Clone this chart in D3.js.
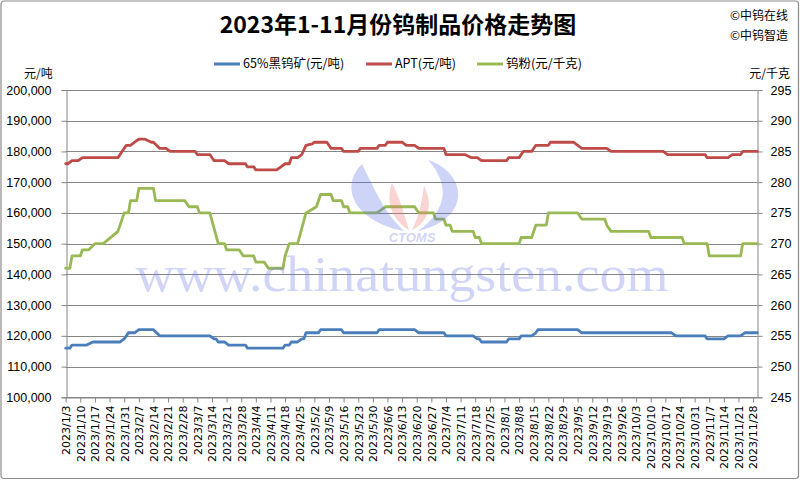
<!DOCTYPE html>
<html><head><meta charset="utf-8">
<script src="https://cdn.jsdelivr.net/npm/d3@7"></script>
<style>body{margin:0;background:#fff}svg{display:block}</style>
</head><body>
<svg id="c" width="800" height="480"></svg>
<script>
const chartTitle = "2023年1-11月份钨制品价格走势图";
const copyrightLines = ["©中钨在线", "©中钨智造"];
const seriesNames = ["65%黑钨矿(元/吨)", "APT(元/吨)", "钨粉(元/千克)"];
const leftUnit = "元/吨";
const rightUnit = "元/千克";
const leftTicks = [100000,110000,120000,130000,140000,150000,160000,170000,180000,190000,200000];
const rightTicks = [245,250,255,260,265,270,275,280,285,290,295];
const dateRange = ["2023/1/3", "2023/11/30"];
const tickStart = "2023/1/3", tickEnd = "2023/11/28";

// 65% wolframite concentrate (yuan/ton) - left axis
const wolframite = [
 ["2023/1/3",116000],["2023/1/5",116000],["2023/1/6",117000],["2023/1/13",117000],["2023/1/16",118000],
 ["2023/1/29",118000],["2023/1/31",119000],["2023/2/2",121000],["2023/2/5",121000],["2023/2/7",122000],
 ["2023/2/14",122000],["2023/2/17",120000],["2023/3/13",120000],["2023/3/15",119000],["2023/3/16",119000],
 ["2023/3/17",118000],["2023/3/20",118000],["2023/3/22",117000],["2023/3/30",117000],["2023/3/31",116000],
 ["2023/4/17",116000],["2023/4/18",117000],["2023/4/20",117000],["2023/4/21",118000],["2023/4/24",118000],
 ["2023/4/26",119000],["2023/4/27",119000],["2023/4/28",121000],["2023/5/4",121000],["2023/5/5",122000],
 ["2023/5/15",122000],["2023/5/16",121000],["2023/6/1",121000],["2023/6/2",122000],["2023/6/19",122000],
 ["2023/6/21",121000],["2023/7/3",121000],["2023/7/4",120000],["2023/7/17",120000],["2023/7/19",119000],
 ["2023/7/20",119000],["2023/7/21",118000],["2023/8/2",118000],["2023/8/3",119000],["2023/8/8",119000],
 ["2023/8/9",120000],["2023/8/14",120000],["2023/8/16",121000],["2023/8/17",122000],["2023/9/5",122000],
 ["2023/9/7",121000],["2023/10/20",121000],["2023/10/22",120000],["2023/11/5",120000],["2023/11/6",119000],
 ["2023/11/14",119000],["2023/11/16",120000],["2023/11/22",120000],["2023/11/24",121000],["2023/11/30",121000]
];
// APT (yuan/ton) - left axis
const apt = [
 ["2023/1/3",176000],["2023/1/4",176000],["2023/1/6",177000],["2023/1/9",177000],["2023/1/11",178000],
 ["2023/1/28",178000],["2023/2/1",182000],["2023/2/3",182000],["2023/2/5",183000],["2023/2/7",184000],
 ["2023/2/10",184000],["2023/2/13",183000],["2023/2/14",183000],["2023/2/17",181000],["2023/2/20",181000],
 ["2023/2/22",180000],["2023/3/6",180000],["2023/3/7",179000],["2023/3/13",179000],["2023/3/15",177000],
 ["2023/3/20",177000],["2023/3/22",176000],["2023/3/30",176000],["2023/3/31",175000],["2023/4/3",175000],
 ["2023/4/4",174000],["2023/4/14",174000],["2023/4/16",175000],["2023/4/18",176000],["2023/4/20",176000],
 ["2023/4/21",178000],["2023/4/24",178000],["2023/4/26",179000],["2023/4/28",182000],["2023/5/1",182500],
 ["2023/5/2",183000],["2023/5/8",183000],["2023/5/10",181000],["2023/5/15",181000],["2023/5/16",180000],
 ["2023/5/23",180000],["2023/5/24",181000],["2023/6/1",181000],["2023/6/2",182000],["2023/6/5",182000],
 ["2023/6/6",183000],["2023/6/13",183000],["2023/6/15",182000],["2023/6/19",182000],["2023/6/21",181000],
 ["2023/7/3",181000],["2023/7/4",179000],["2023/7/13",179000],["2023/7/16",178000],["2023/7/19",178000],
 ["2023/7/21",177000],["2023/8/2",177000],["2023/8/3",178000],["2023/8/8",178000],["2023/8/10",180000],
 ["2023/8/14",180000],["2023/8/16",182000],["2023/8/22",182000],["2023/8/23",183000],["2023/9/3",183000],
 ["2023/9/7",181000],["2023/9/19",181000],["2023/9/21",180000],["2023/10/16",180000],["2023/10/18",179000],
 ["2023/11/5",179000],["2023/11/6",178000],["2023/11/16",178000],["2023/11/18",179000],["2023/11/22",179000],
 ["2023/11/23",180000],["2023/11/30",180000]
];
// Tungsten powder (yuan/kg) - right axis
const powder = [
 ["2023/1/3",266],["2023/1/5",266],["2023/1/6",268],["2023/1/10",268],["2023/1/11",269],["2023/1/14",269],
 ["2023/1/17",270],["2023/1/21",270],["2023/1/28",272],["2023/1/31",275],["2023/2/2",275],["2023/2/3",277],
 ["2023/2/6",277],["2023/2/7",279],["2023/2/14",279],["2023/2/15",277],["2023/3/1",277],["2023/3/3",276],
 ["2023/3/7",276],["2023/3/8",275],["2023/3/13",275],["2023/3/17",270],["2023/3/20",270],["2023/3/21",269],
 ["2023/3/27",269],["2023/3/29",268],["2023/4/3",268],["2023/4/4",267],["2023/4/8",267],["2023/4/10",266],
 ["2023/4/17",266],["2023/4/18",268],["2023/4/20",270],["2023/4/24",270],["2023/4/28",275],["2023/5/3",276],
 ["2023/5/5",278],["2023/5/10",278],["2023/5/11",277],["2023/5/15",277],["2023/5/16",276],["2023/5/18",276],
 ["2023/5/19",275],["2023/6/1",275],["2023/6/5",276],["2023/6/19",276],["2023/6/21",275],["2023/6/28",275],
 ["2023/6/29",274],["2023/7/3",274],["2023/7/4",273],["2023/7/6",273],["2023/7/7",272],["2023/7/17",272],
 ["2023/7/18",271],["2023/7/20",271],["2023/7/21",270],["2023/8/8",270],["2023/8/9",271],["2023/8/14",271],
 ["2023/8/16",273],["2023/8/21",273],["2023/8/22",275],["2023/9/5",275],["2023/9/7",274],["2023/9/18",274],
 ["2023/9/19",273],["2023/9/21",272],["2023/10/9",272],["2023/10/10",271],["2023/10/25",271],["2023/10/26",270],
 ["2023/11/6",270],["2023/11/7",268],["2023/11/22",268],["2023/11/23",270],["2023/11/30",270]
];
const seriesColors = ["#4A7EBB", "#BE4B48", "#98B954"];

const parseD = s => { const [y,m,d] = s.split("/").map(Number); return new Date(y, m-1, d); };
const svg = d3.select("#c");
const W = 800, H = 480;
const M = {left: 65.7, right: 757.3, top: 90, bottom: 397.3};
const cjk = "'Noto Sans CJK SC', 'Noto Sans', sans-serif";
const num = "'Liberation Sans', Arial, sans-serif";
const grid = "#868686";

svg.append("rect").attr("x",1).attr("y",1).attr("width",W-2.5).attr("height",H-2.5)
  .attr("rx",3).attr("fill","#fff").attr("stroke","#8c8c8c").attr("stroke-width",1.2);

const x = d3.scaleTime().domain(dateRange.map(parseD)).range([M.left, M.right]);
const yL = d3.scaleLinear().domain([leftTicks[0], leftTicks[leftTicks.length-1]]).range([M.bottom, M.top]);
const yR = d3.scaleLinear().domain([rightTicks[0], rightTicks[rightTicks.length-1]]).range([M.bottom, M.top]);

// gridlines
svg.append("g").selectAll("line").data(leftTicks).join("line")
  .attr("x1", M.left).attr("x2", M.right)
  .attr("y1", d => Math.round(yL(d))+0.5).attr("y2", d => Math.round(yL(d))+0.5)
  .attr("stroke", grid).attr("stroke-width", 1);

// left axis
const gL = svg.append("g").attr("transform", `translate(${Math.round(M.left)+0.5},0)`)
  .call(d3.axisLeft(yL).tickValues(leftTicks).tickFormat(d3.format(",")).tickSize(5).tickPadding(10));
// right axis
const gR = svg.append("g").attr("transform", `translate(${Math.round(M.right)+0.5},0)`)
  .call(d3.axisRight(yR).tickValues(rightTicks).tickSize(5).tickPadding(8));
// bottom axis
const ticksX = d3.timeTuesday.range(parseD(tickStart), d3.timeDay.offset(parseD(tickEnd), 1));
const fmtX = d => `${d.getFullYear()}/${d.getMonth()+1}/${d.getDate()}`;
const gB = svg.append("g").attr("transform", `translate(0,${Math.round(M.bottom)+0.5})`)
  .call(d3.axisBottom(x).tickValues(ticksX).tickFormat(fmtX).tickSize(5).tickSizeOuter(0));
gB.selectAll("text").attr("transform","rotate(-90)").attr("text-anchor","end")
  .attr("x",-8).attr("y",0).attr("dy","0.35em")
  .attr("font-family","'DejaVu Sans', sans-serif").attr("font-size",11).attr("fill","#000");

[gL, gR, gB].forEach(g => {
  g.select(".domain").attr("stroke", grid).attr("stroke-width",1);
  g.selectAll(".tick line").attr("stroke", grid);
});
[gL, gR].forEach(g => g.selectAll("text").attr("font-family", num).attr("font-size", 12.5).attr("fill","#000"));

// lines
const lineL = d3.line().x(d => x(parseD(d[0]))).y(d => yL(d[1]));
const lineR = d3.line().x(d => x(parseD(d[0]))).y(d => yR(d[1]));
const seriesData = [[wolframite, lineL], [apt, lineL], [powder, lineR]];
svg.append("g").selectAll("path").data(seriesData).join("path")
  .attr("d", d => d[1](d[0])).attr("fill","none")
  .attr("stroke", (d,i) => seriesColors[i]).attr("stroke-width", 2.8)
  .attr("stroke-linejoin","round").attr("stroke-linecap","round");

// watermark
const wm = svg.append("g").attr("pointer-events","none");
wm.append("text").attr("x", 402).attr("y", 291).attr("text-anchor","middle")
  .attr("font-family","'Liberation Serif', 'DejaVu Serif', serif").attr("font-size", 51)
  .attr("textLength", 533).attr("lengthAdjust","spacingAndGlyphs")
  .attr("fill","#6f7be6").attr("fill-opacity",0.33).text("www.chinatungsten.com");
const logo = wm.append("g").attr("fill-opacity",0.3);
logo.append("path").attr("fill","#5e6ee8")
  .attr("d","M362,164 C338,188 356,222 404,231 C384,212 376,192 362,164 Z");
logo.append("path").attr("fill","#5e6ee8")
  .attr("d","M428,160 C466,172 474,218 418,231 C448,210 450,184 428,160 Z");
logo.append("path").attr("fill","#ee6d6d")
  .attr("d","M392,183 C384,206 396,222 409,230 C404,214 400,198 392,183 Z");
logo.append("path").attr("fill","#ee6d6d")
  .attr("d","M424,186 C434,206 428,222 412,230 C420,214 422,200 424,186 Z");
logo.append("text").attr("x",412).attr("y",242).attr("text-anchor","middle")
  .attr("font-family","'Liberation Sans', Arial, sans-serif").attr("font-style","italic").attr("font-weight","bold")
  .attr("font-size",13).attr("fill","#5e6ee8").text("CTOMS");

// title
svg.append("text").attr("x", 398).attr("y", 33).attr("text-anchor","middle")
  .attr("font-family", cjk).attr("font-weight","bold").attr("font-size", 23).attr("fill","#000").text(chartTitle);
svg.selectAll(".cr").data(copyrightLines).join("text").attr("class","cr")
  .attr("x", 788).attr("y", (d,i) => 20 + i*20).attr("text-anchor","end")
  .attr("font-family", cjk).attr("font-size", 12).attr("fill","#000").text(d => d);

// units
svg.append("text").attr("x", 24).attr("y", 78).attr("font-family", cjk).attr("font-size", 12).text(leftUnit);
svg.append("text").attr("x", 790).attr("y", 78).attr("text-anchor","end").attr("font-family", cjk).attr("font-size", 12).text(rightUnit);

// legend
const legX = [214, 366, 477];
const leg = svg.append("g").selectAll("g").data(seriesNames).join("g")
  .attr("transform", (d,i) => `translate(${legX[i]},64)`);
leg.append("line").attr("x1",0).attr("x2",26).attr("y1",0).attr("y2",0)
  .attr("stroke", (d,i) => seriesColors[i]).attr("stroke-width",3);
leg.append("text").attr("x",29).attr("y",0).attr("dy","0.35em")
  .attr("font-family", cjk).attr("font-size", 12.5).attr("fill","#000").text(d => d);
</script>
</body></html>
